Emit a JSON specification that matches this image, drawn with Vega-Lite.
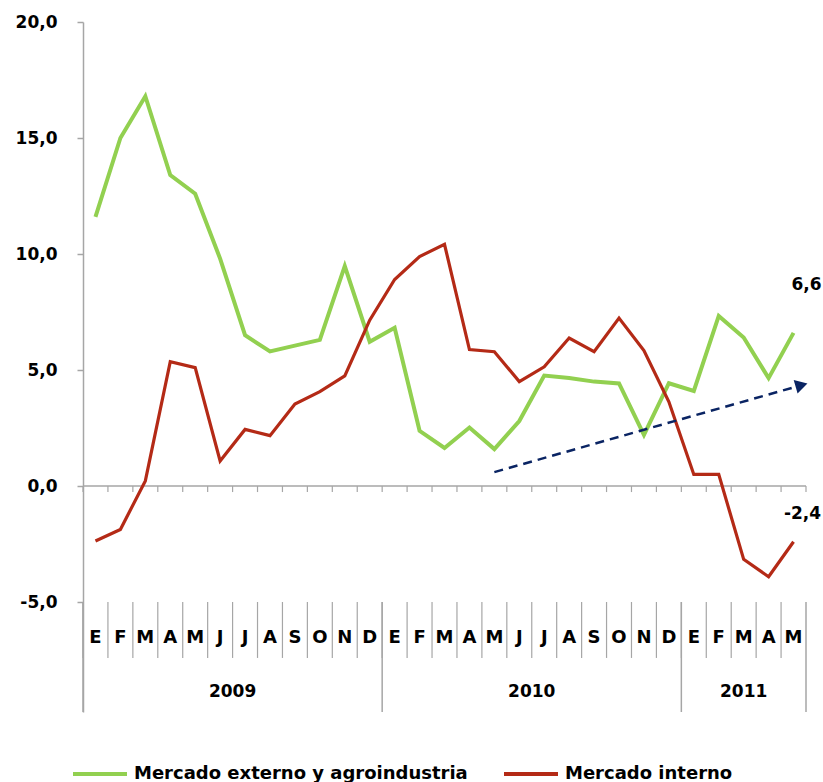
{
  "$schema": "https://vega.github.io/schema/vega-lite/v6.json",
  "width": 723,
  "height": 690,
  "autosize": "none",
  "padding": {"left": 83, "top": 22, "right": 17, "bottom": 70},
  "background": "white",
  "config": {
    "view": {"stroke": null},
    "font": "DejaVu Sans",
    "locale": {"number": {"decimal": ",", "thousands": ".", "grouping": [3], "currency": ["", " €"], "minus": "-"}}
  },
  "data": {
    "values": [
      {"id": "2009-01", "mes": "E", "anio": "2009", "serie": "Mercado externo y agroindustria", "valor": 11.6},
      {"id": "2009-02", "mes": "F", "anio": "2009", "serie": "Mercado externo y agroindustria", "valor": 15.0},
      {"id": "2009-03", "mes": "M", "anio": "2009", "serie": "Mercado externo y agroindustria", "valor": 16.8},
      {"id": "2009-04", "mes": "A", "anio": "2009", "serie": "Mercado externo y agroindustria", "valor": 13.4},
      {"id": "2009-05", "mes": "M", "anio": "2009", "serie": "Mercado externo y agroindustria", "valor": 12.6},
      {"id": "2009-06", "mes": "J", "anio": "2009", "serie": "Mercado externo y agroindustria", "valor": 9.8},
      {"id": "2009-07", "mes": "J", "anio": "2009", "serie": "Mercado externo y agroindustria", "valor": 6.5},
      {"id": "2009-08", "mes": "A", "anio": "2009", "serie": "Mercado externo y agroindustria", "valor": 5.8},
      {"id": "2009-09", "mes": "S", "anio": "2009", "serie": "Mercado externo y agroindustria", "valor": 6.05},
      {"id": "2009-10", "mes": "O", "anio": "2009", "serie": "Mercado externo y agroindustria", "valor": 6.3},
      {"id": "2009-11", "mes": "N", "anio": "2009", "serie": "Mercado externo y agroindustria", "valor": 9.48},
      {"id": "2009-12", "mes": "D", "anio": "2009", "serie": "Mercado externo y agroindustria", "valor": 6.22},
      {"id": "2010-01", "mes": "E", "anio": "2010", "serie": "Mercado externo y agroindustria", "valor": 6.82},
      {"id": "2010-02", "mes": "F", "anio": "2010", "serie": "Mercado externo y agroindustria", "valor": 2.38},
      {"id": "2010-03", "mes": "M", "anio": "2010", "serie": "Mercado externo y agroindustria", "valor": 1.64},
      {"id": "2010-04", "mes": "A", "anio": "2010", "serie": "Mercado externo y agroindustria", "valor": 2.52},
      {"id": "2010-05", "mes": "M", "anio": "2010", "serie": "Mercado externo y agroindustria", "valor": 1.59},
      {"id": "2010-06", "mes": "J", "anio": "2010", "serie": "Mercado externo y agroindustria", "valor": 2.8},
      {"id": "2010-07", "mes": "J", "anio": "2010", "serie": "Mercado externo y agroindustria", "valor": 4.76},
      {"id": "2010-08", "mes": "A", "anio": "2010", "serie": "Mercado externo y agroindustria", "valor": 4.66},
      {"id": "2010-09", "mes": "S", "anio": "2010", "serie": "Mercado externo y agroindustria", "valor": 4.5},
      {"id": "2010-10", "mes": "O", "anio": "2010", "serie": "Mercado externo y agroindustria", "valor": 4.42},
      {"id": "2010-11", "mes": "N", "anio": "2010", "serie": "Mercado externo y agroindustria", "valor": 2.2},
      {"id": "2010-12", "mes": "D", "anio": "2010", "serie": "Mercado externo y agroindustria", "valor": 4.43},
      {"id": "2011-01", "mes": "E", "anio": "2011", "serie": "Mercado externo y agroindustria", "valor": 4.1},
      {"id": "2011-02", "mes": "F", "anio": "2011", "serie": "Mercado externo y agroindustria", "valor": 7.33},
      {"id": "2011-03", "mes": "M", "anio": "2011", "serie": "Mercado externo y agroindustria", "valor": 6.4},
      {"id": "2011-04", "mes": "A", "anio": "2011", "serie": "Mercado externo y agroindustria", "valor": 4.65},
      {"id": "2011-05", "mes": "M", "anio": "2011", "serie": "Mercado externo y agroindustria", "valor": 6.6},
      {"id": "2009-01", "mes": "E", "anio": "2009", "serie": "Mercado interno", "valor": -2.37},
      {"id": "2009-02", "mes": "F", "anio": "2009", "serie": "Mercado interno", "valor": -1.87},
      {"id": "2009-03", "mes": "M", "anio": "2009", "serie": "Mercado interno", "valor": 0.22},
      {"id": "2009-04", "mes": "A", "anio": "2009", "serie": "Mercado interno", "valor": 5.36},
      {"id": "2009-05", "mes": "M", "anio": "2009", "serie": "Mercado interno", "valor": 5.1},
      {"id": "2009-06", "mes": "J", "anio": "2009", "serie": "Mercado interno", "valor": 1.08},
      {"id": "2009-07", "mes": "J", "anio": "2009", "serie": "Mercado interno", "valor": 2.44},
      {"id": "2009-08", "mes": "A", "anio": "2009", "serie": "Mercado interno", "valor": 2.17},
      {"id": "2009-09", "mes": "S", "anio": "2009", "serie": "Mercado interno", "valor": 3.53},
      {"id": "2009-10", "mes": "O", "anio": "2009", "serie": "Mercado interno", "valor": 4.07},
      {"id": "2009-11", "mes": "N", "anio": "2009", "serie": "Mercado interno", "valor": 4.75},
      {"id": "2009-12", "mes": "D", "anio": "2009", "serie": "Mercado interno", "valor": 7.15},
      {"id": "2010-01", "mes": "E", "anio": "2010", "serie": "Mercado interno", "valor": 8.9},
      {"id": "2010-02", "mes": "F", "anio": "2010", "serie": "Mercado interno", "valor": 9.89},
      {"id": "2010-03", "mes": "M", "anio": "2010", "serie": "Mercado interno", "valor": 10.42},
      {"id": "2010-04", "mes": "A", "anio": "2010", "serie": "Mercado interno", "valor": 5.88},
      {"id": "2010-05", "mes": "M", "anio": "2010", "serie": "Mercado interno", "valor": 5.79},
      {"id": "2010-06", "mes": "J", "anio": "2010", "serie": "Mercado interno", "valor": 4.5},
      {"id": "2010-07", "mes": "J", "anio": "2010", "serie": "Mercado interno", "valor": 5.14},
      {"id": "2010-08", "mes": "A", "anio": "2010", "serie": "Mercado interno", "valor": 6.38},
      {"id": "2010-09", "mes": "S", "anio": "2010", "serie": "Mercado interno", "valor": 5.79},
      {"id": "2010-10", "mes": "O", "anio": "2010", "serie": "Mercado interno", "valor": 7.24},
      {"id": "2010-11", "mes": "N", "anio": "2010", "serie": "Mercado interno", "valor": 5.84},
      {"id": "2010-12", "mes": "D", "anio": "2010", "serie": "Mercado interno", "valor": 3.63},
      {"id": "2011-01", "mes": "E", "anio": "2011", "serie": "Mercado interno", "valor": 0.5},
      {"id": "2011-02", "mes": "F", "anio": "2011", "serie": "Mercado interno", "valor": 0.5},
      {"id": "2011-03", "mes": "M", "anio": "2011", "serie": "Mercado interno", "valor": -3.16},
      {"id": "2011-04", "mes": "A", "anio": "2011", "serie": "Mercado interno", "valor": -3.91},
      {"id": "2011-05", "mes": "M", "anio": "2011", "serie": "Mercado interno", "valor": -2.4}
    ]
  },
  "layer": [
    {
      "data": {"values": [{}]},
      "mark": {"type": "rule", "color": "#a6a6a6", "strokeWidth": 1.5},
      "encoding": {
        "y": {
          "datum": 0,
          "type": "quantitative",
          "scale": {"domain": [-9.74, 20], "nice": false, "zero": false},
          "axis": {
            "title": null,
            "values": [-5, 0, 5, 10, 15, 20],
            "format": ".1f",
            "grid": false,
            "domainColor": "#a6a6a6",
            "domainWidth": 1.5,
            "tickColor": "#a6a6a6",
            "tickWidth": 1.5,
            "tickSize": 6,
            "labelPadding": 20,
            "labelFont": "DejaVu Sans",
            "labelFontSize": 17,
            "labelFontWeight": "bold",
            "labelColor": "black"
          }
        }
      }
    },
    {
      "transform": [{"filter": "datum.serie == 'Mercado interno'"}],
      "mark": {"type": "rule", "color": "#a6a6a6", "strokeWidth": 1.2},
      "encoding": {
        "x": {"field": "id", "type": "ordinal", "bandPosition": 0, "scale": {"type": "band", "paddingInner": 0, "paddingOuter": 0}, "axis": null},
        "y": {"datum": 0},
        "y2": {"datum": -0.26}
      }
    },
    {
      "transform": [{"filter": "datum.serie == 'Mercado interno' && datum.id == '2011-05'"}],
      "mark": {"type": "rule", "color": "#a6a6a6", "strokeWidth": 1.2},
      "encoding": {
        "x": {"field": "id", "type": "ordinal", "bandPosition": 1, "scale": {"type": "band", "paddingInner": 0, "paddingOuter": 0}, "axis": null},
        "y": {"datum": 0},
        "y2": {"datum": -0.26}
      }
    },
    {
      "transform": [{"filter": "datum.serie == 'Mercado interno'"}],
      "mark": {"type": "rule", "color": "#a6a6a6", "strokeWidth": 1.2},
      "encoding": {
        "x": {"field": "id", "type": "ordinal", "bandPosition": 0, "scale": {"type": "band", "paddingInner": 0, "paddingOuter": 0}, "axis": null},
        "y": {"datum": -5},
        "y2": {"datum": -7.41}
      }
    },
    {
      "transform": [{"filter": "datum.serie == 'Mercado interno' && datum.mes == 'E'"}],
      "mark": {"type": "rule", "color": "#a6a6a6", "strokeWidth": 1.5},
      "encoding": {
        "x": {"field": "id", "type": "ordinal", "bandPosition": 0, "scale": {"type": "band", "paddingInner": 0, "paddingOuter": 0}, "axis": null},
        "y": {"datum": -5},
        "y2": {"datum": -9.74}
      }
    },
    {
      "transform": [{"filter": "datum.serie == 'Mercado interno' && datum.id == '2011-05'"}],
      "mark": {"type": "rule", "color": "#a6a6a6", "strokeWidth": 1.5},
      "encoding": {
        "x": {"field": "id", "type": "ordinal", "bandPosition": 1, "scale": {"type": "band", "paddingInner": 0, "paddingOuter": 0}, "axis": null},
        "y": {"datum": -5},
        "y2": {"datum": -9.74}
      }
    },
    {
      "transform": [{"filter": "datum.serie == 'Mercado interno'"}],
      "mark": {"type": "text", "font": "DejaVu Sans", "fontSize": 18, "fontWeight": "bold", "color": "black", "baseline": "middle", "align": "center"},
      "encoding": {
        "x": {"field": "id", "type": "ordinal", "bandPosition": 0.5, "scale": {"type": "band", "paddingInner": 0, "paddingOuter": 0}, "axis": null},
        "y": {"datum": -6.55},
        "text": {"field": "mes"}
      }
    },
    {
      "transform": [{"filter": "datum.serie == 'Mercado interno' && (datum.id == '2009-07' || datum.id == '2010-07')"}],
      "mark": {"type": "text", "font": "DejaVu Sans", "fontSize": 17, "fontWeight": "bold", "color": "black", "baseline": "middle", "align": "center"},
      "encoding": {
        "x": {"field": "id", "type": "ordinal", "bandPosition": 0, "scale": {"type": "band", "paddingInner": 0, "paddingOuter": 0}, "axis": null},
        "y": {"datum": -8.88},
        "text": {"field": "anio"}
      }
    },
    {
      "transform": [{"filter": "datum.serie == 'Mercado interno' && datum.id == '2011-03'"}],
      "mark": {"type": "text", "font": "DejaVu Sans", "fontSize": 17, "fontWeight": "bold", "color": "black", "baseline": "middle", "align": "center"},
      "encoding": {
        "x": {"field": "id", "type": "ordinal", "bandPosition": 0.5, "scale": {"type": "band", "paddingInner": 0, "paddingOuter": 0}, "axis": null},
        "y": {"datum": -8.88},
        "text": {"field": "anio"}
      }
    },
    {
      "transform": [{"filter": "datum.serie == 'Mercado externo y agroindustria'"}],
      "mark": {"type": "line", "strokeWidth": 4, "strokeJoin": "miter"},
      "encoding": {
        "x": {"field": "id", "type": "ordinal", "bandPosition": 0.5, "scale": {"type": "band", "paddingInner": 0, "paddingOuter": 0}, "axis": null},
        "y": {"field": "valor", "type": "quantitative", "title": null},
        "color": {
          "field": "serie",
          "type": "nominal",
          "scale": {"domain": ["Mercado externo y agroindustria", "Mercado interno"], "range": ["#92d050", "#b42a16"]},
          "legend": {
            "orient": "none",
            "legendX": -12,
            "legendY": 723,
            "direction": "horizontal",
            "title": null,
            "padding": 0,
            "symbolType": "stroke",
            "symbolSize": 2916,
            "symbolStrokeWidth": 4,
            "labelFont": "DejaVu Sans",
            "labelFontSize": 18,
            "labelFontWeight": "bold",
            "labelColor": "black",
            "labelOffset": 5,
            "labelLimit": 500,
            "columnPadding": 28
          }
        }
      }
    },
    {
      "transform": [{"filter": "datum.serie == 'Mercado interno'"}],
      "mark": {"type": "line", "strokeWidth": 3.2, "strokeJoin": "miter"},
      "encoding": {
        "x": {"field": "id", "type": "ordinal", "bandPosition": 0.5, "scale": {"type": "band", "paddingInner": 0, "paddingOuter": 0}, "axis": null},
        "y": {"field": "valor", "type": "quantitative", "title": null},
        "color": {"field": "serie", "type": "nominal"}
      }
    },
    {
      "data": {"values": [{"id": "2010-05", "valor": 0.6}, {"id": "2011-05", "valor": 4.25}]},
      "mark": {"type": "line", "color": "#0a2463", "strokeWidth": 2.5, "strokeDash": [9, 6]},
      "encoding": {
        "x": {"field": "id", "type": "ordinal", "bandPosition": 0.5, "scale": {"type": "band", "paddingInner": 0, "paddingOuter": 0}, "axis": null},
        "y": {"field": "valor", "type": "quantitative", "title": null}
      }
    },
    {
      "data": {"values": [{"id": "2011-05", "valor": 4.35}]},
      "mark": {"type": "point", "shape": "triangle-right", "filled": true, "color": "#0a2463", "opacity": 1, "size": 200, "angle": 344, "xOffset": 8},
      "encoding": {
        "x": {"field": "id", "type": "ordinal", "bandPosition": 0.5, "scale": {"type": "band", "paddingInner": 0, "paddingOuter": 0}, "axis": null},
        "y": {"field": "valor", "type": "quantitative", "title": null}
      }
    },
    {
      "transform": [{"filter": "datum.serie == 'Mercado externo y agroindustria' && datum.id == '2011-05'"}],
      "mark": {"type": "text", "font": "DejaVu Sans", "fontSize": 17, "fontWeight": "bold", "color": "black", "baseline": "middle", "align": "center", "dy": -48, "dx": 13},
      "encoding": {
        "x": {"field": "id", "type": "ordinal", "bandPosition": 0.5, "scale": {"type": "band", "paddingInner": 0, "paddingOuter": 0}, "axis": null},
        "y": {"field": "valor", "type": "quantitative", "title": null},
        "text": {"field": "valor", "type": "quantitative", "format": ".1f"}
      }
    },
    {
      "transform": [{"filter": "datum.serie == 'Mercado interno' && datum.id == '2011-05'"}],
      "mark": {"type": "text", "font": "DejaVu Sans", "fontSize": 17, "fontWeight": "bold", "color": "black", "baseline": "middle", "align": "center", "dy": -28, "dx": 9},
      "encoding": {
        "x": {"field": "id", "type": "ordinal", "bandPosition": 0.5, "scale": {"type": "band", "paddingInner": 0, "paddingOuter": 0}, "axis": null},
        "y": {"field": "valor", "type": "quantitative", "title": null},
        "text": {"field": "valor", "type": "quantitative", "format": ".1f"}
      }
    }
  ]
}
